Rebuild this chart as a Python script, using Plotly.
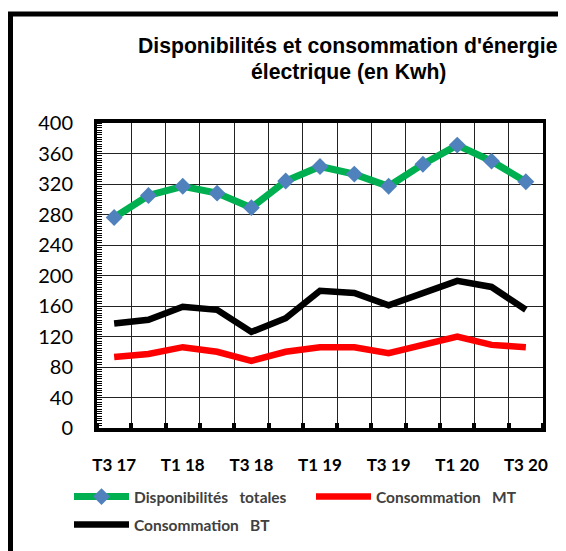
import plotly.graph_objects as go

quarters = ["T3 17", "T4 17", "T1 18", "T2 18", "T3 18", "T4 18", "T1 19",
            "T2 19", "T3 19", "T4 19", "T1 20", "T2 20", "T3 20"]
dispo_totales = [276, 305, 317, 308, 289, 324, 343, 333, 317, 346, 371, 350, 323]
conso_mt = [93, 97, 106, 100, 88, 100, 106, 106, 98, 108, 120, 109, 106]
conso_bt = [137, 142, 159, 155, 126, 144, 180, 177, 161, 176, 193, 185, 155]
shown_labels = ["T3 17", "T1 18", "T3 18", "T1 19", "T3 19", "T1 20", "T3 20"]
y_ticks = [0, 40, 80, 120, 160, 200, 240, 280, 320, 360, 400]

x_idx = list(range(len(quarters)))
shown_idx = [quarters.index(q) for q in shown_labels]

# The page body adds an 8px offset; work in page pixels and convert.
OFF = 8
W, H = 566 - OFF, 551 - OFF
L, R, T, B = 97, 543, 123, 428          # plot area in page pixels
def px(xp):
    return (xp - L) / (R - L)
def py(yp):
    return (B - yp) / (B - T)

fig = go.Figure()
fig.add_trace(go.Scatter(
    x=x_idx, y=dispo_totales, name="Disponibilités   totales",
    mode="lines+markers", legend="legend",
    line=dict(color="#00B050", width=7),
    marker=dict(symbol="diamond", size=13, color="#4F81BD", line=dict(width=0)),
))
fig.add_trace(go.Scatter(
    x=x_idx, y=conso_mt, name="Consommation   MT", mode="lines", legend="legend2",
    line=dict(color="#FF0000", width=6.5),
))
fig.add_trace(go.Scatter(
    x=x_idx, y=conso_bt, name="Consommation   BT", mode="lines", legend="legend3",
    line=dict(color="#000000", width=6.5),
))

fig.update_xaxes(
    range=[-0.5, len(quarters) - 0.5],
    tickmode="array", tickvals=shown_idx, ticktext=shown_labels,
    ticks="", showgrid=False, zeroline=False,
    tickfont=dict(family="Lato", size=17, color="#000000", weight="bold"),
    ticklabelstandoff=19,
    showline=True, linecolor="#000000", linewidth=4, mirror=True,
    minor=dict(tick0=-0.5, dtick=1, ticks="inside", ticklen=5, tickwidth=4,
               tickcolor="#000000", showgrid=True, gridcolor="#222222", gridwidth=1),
)
fig.update_yaxes(
    range=[0, 400], tickmode="array", tickvals=y_ticks,
    showgrid=True, gridcolor="#222222", gridwidth=1, zeroline=False,
    ticks="", tickfont=dict(family="Lato", size=20, color="#000000"),
    ticklabelstandoff=17,
    showline=True, linecolor="#000000", linewidth=3, mirror=True,
    minor=dict(tick0=0, dtick=40 / 13, ticks="inside", ticklen=5, tickwidth=1.2,
               tickcolor="#000000", showgrid=False),
)

title_font = dict(family="Arial, Liberation Sans", size=21.2, color="#000000", weight="bold")
annotations = [
    dict(text="Disponibilités et consommation d'énergie", x=px(348), y=py(46),
         xref="paper", yref="paper", showarrow=False, font=title_font,
         xanchor="center", yanchor="middle"),
    dict(text="électrique (en Kwh)", x=px(348), y=py(72),
         xref="paper", yref="paper", showarrow=False, font=title_font,
         xanchor="center", yanchor="middle"),
]

shapes = [
    dict(type="line", xref="paper", yref="paper", x0=px(10.5), x1=px(10.5),
         y0=py(12), y1=py(560), line=dict(color="#000000", width=5)),
    dict(type="line", xref="paper", yref="paper", x0=px(8), x1=px(563),
         y0=py(14), y1=py(14), line=dict(color="#000000", width=5)),
    dict(type="line", xref="paper", yref="paper", x0=px(564), x1=px(564),
         y0=py(12), y1=py(560), line=dict(color="#AAAAAA", width=1)),
]

legend_font = dict(family="Lato", size=15.5, color="#404040", weight="bold")
def leg(xpix, ypix):
    return dict(orientation="h", x=px(xpix), y=py(ypix), xanchor="left",
                yanchor="middle", itemwidth=55, font=legend_font,
                bgcolor="rgba(0,0,0,0)", borderwidth=0)

fig.update_layout(
    width=W, height=H,
    margin=dict(l=L - OFF, r=W - (R - OFF), t=T - OFF, b=H - (B - OFF), autoexpand=False),
    paper_bgcolor="#FFFFFF", plot_bgcolor="#FFFFFF",
    showlegend=True,
    legend=leg(69, 497),
    legend2=leg(311, 497),
    legend3=leg(69, 525),
    annotations=annotations, shapes=shapes,
)

fig.write_html("out.html")
